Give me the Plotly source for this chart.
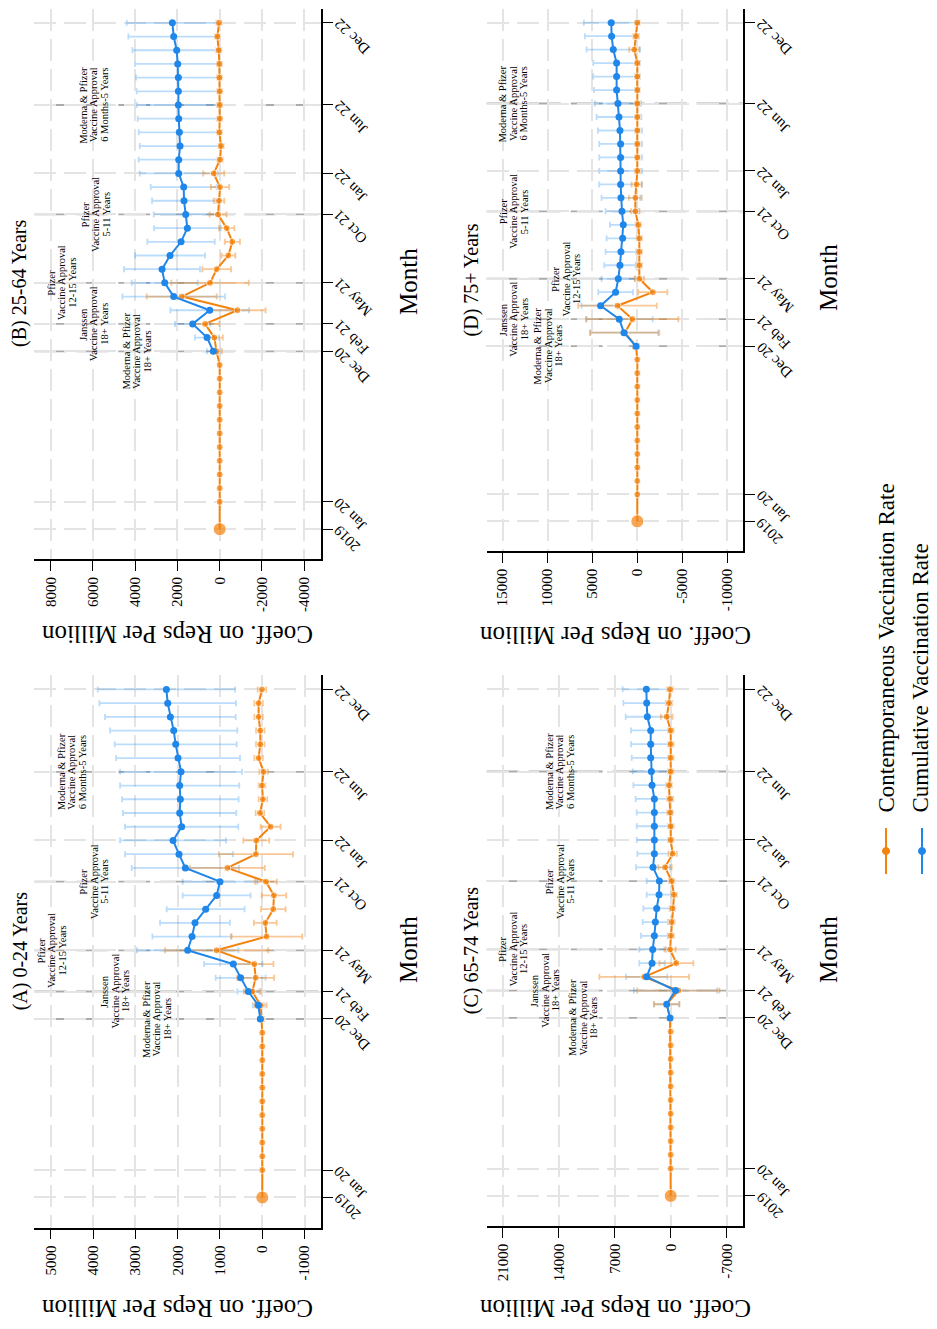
import plotly.graph_objects as go

# ---------------- data ----------------
# month index: 0 = Jan 20 ... 35 = Dec 22 ; 2019 baseline plotted at -2
MONTHS = list(range(0, 36))
VAC_MONTHS = list(range(11, 36))
BASE_POS = -2
BASE_VALUE = 0

TICK_POS = [-2, 0, 11, 13, 16, 21, 24, 29, 35]
TICK_LABELS = ["2019", "Jan 20", "Dec 20", "Feb 21", "May 21", "Oct 21", "Jan 22", "Jun 22", "Dec 22"]

EVENT_MONTHS = [11, 13, 16, 21, 29]
EVENT_TEXT = [
    ["Moderna & Pfizer", "Vaccine Approval", "18+ Years"],
    ["Janssen", "Vaccine Approval", "18+ Years"],
    ["Pfizer", "Vaccine Approval", "12-15 Years"],
    ["Pfizer", "Vaccine Approval", "5-11 Years"],
    ["Moderna & Pfizer", "Vaccine Approval", "6 Months-5 Years"],
]

# (A) 0-24 Years
A_cont = [0, 0, 0, 0, 0, 0, 0, 0, 0, 0, 0,
          20, 39, 236, 157, 189, 1079, -102, -71, -260, -276, -87, 827, 150, 142, -197,
          55, -16, 8, -31, 87, 47, 47, 87, 87, 8]
A_cont_ci = [60, 140, 200, 437, 453, 1220, 843, 268, 290, 290, 256, 886, 874, 307, 236,
             100, 100, 80, 100, 100, 100, 100, 100, 100, 100]
A_cum = [47, 94, 331, 512, 685, 1764, 1661, 1591, 1339, 1079, 1000, 1819, 1969, 2110, 1906,
         1953, 1937, 1953, 1921, 1992, 2047, 2094, 2173, 2236, 2268]
A_cum_ci = [40, 130, 260, 590, 690, 1200, 937, 826, 921, 803, 882, 1268, 1275, 1252, 1338,
            1338, 1378, 1409, 1441, 1465, 1441, 1504, 1544, 1614, 1622]

# (B) 25-64 Years
B_cont = [0, 0, 0, 0, 0, 0, 0, 0, 0, 0, 0,
          150, 252, 694, -840, 1798, 457, 142, -410, -599, -331, 79, 32, -16, 284, -16,
          -63, 16, 0, 0, 0, 16, 16, 47, 110, 32]
B_cont_ci = [250, 400, 678, 1333, 1656, 1830, 678, 330, 360, 363, 400, 250, 433, 497, 120,
             120, 120, 120, 120, 120, 120, 120, 120, 120, 120]
B_cum = [300, 599, 1278, 473, 2177, 2603, 2729, 2350, 1830, 1530, 1609, 1688, 1703, 1940, 1940,
         1877, 1909, 1940, 1956, 1956, 1956, 1987, 2035, 2177, 2240]
B_cum_ci = [300, 570, 836, 1861, 2429, 1561, 1798, 1656, 1593, 1577, 1514, 1514, 1562, 1845, 1893,
            1908, 1924, 1940, 1971, 1971, 2003, 2019, 2097, 2145, 2160]

# (C) 65-74 Years
C_cont = [0, 0, 0, 0, 0, 0, 0, 0, 0, 0, 0,
          83, 500, -958, 3312, -708, 83, -42, -125, -208, -417, -125, 708, -250, 0, 0,
          83, 83, 208, 0, 0, 0, 0, 500, 208, 83]
C_cont_ci = [200, 1583, 5125, 5604, 2125, 700, 350, 350, 350, 350, 350, 833, 520, 350, 350,
             350, 350, 350, 350, 350, 350, 350, 730, 400, 350]
C_cum = [83, 500, -600, 3000, 2333, 2250, 2042, 1917, 1750, 1458, 1417, 2208, 2042, 2042, 2042,
         2042, 2042, 2333, 2417, 2500, 2500, 2500, 2917, 3000, 3042]
C_cum_ci = [150, 1583, 5200, 2583, 1584, 1667, 1666, 1583, 1667, 1542, 1583, 2125, 2125, 2208, 2208,
            2208, 2333, 2334, 2333, 2375, 2458, 2458, 2708, 2917, 2958]

# (D) 75+ Years
D_cont = [0, 0, 0, 0, 0, 0, 0, 0, 0, 0, 0,
          149, 1375, 540, 2212, -1729, -223, -223, -223, -223, -112, 223, 223, 74, 0, 0,
          0, 0, 0, 0, 0, 0, 0, 335, 149, 0]
D_cont_ci = [300, 3829, 5110, 4368, 1617, 500, 300, 300, 300, 300, 460, 720, 560, 300, 250,
             250, 250, 250, 250, 250, 250, 250, 560, 300, 250]
D_cum = [149, 1487, 2007, 4089, 2416, 2119, 1933, 1822, 1636, 1561, 1710, 1822, 1859, 1859, 1859,
         1859, 1933, 2045, 2156, 2305, 2305, 2305, 2677, 2862, 2900]
D_cum_ci = [300, 3800, 3718, 2119, 1933, 1859, 1747, 1710, 1784, 1487, 1822, 2156, 2379, 2379, 2379,
            2379, 2454, 2490, 2565, 2528, 2602, 2602, 2974, 2974, 3048]

TITLES = ["(A) 0-24 Years", "(B) 25-64 Years", "(C) 65-74 Years", "(D) 75+ Years"]
VALUE_TICKS = [
    [5000, 4000, 3000, 2000, 1000, 0, -1000],
    [8000, 6000, 4000, 2000, 0, -2000, -4000],
    [21000, 14000, 7000, 0, -7000],
    [15000, 10000, 5000, 0, -5000, -10000],
]
SERIES_NAMES = ["Contemporaneous Vaccination Rate", "Cumulative Vaccination Rate"]

# ---------------- style / geometry ----------------
OFF = 8                       # page body margin
W, H = 937 - OFF, 1329 - 2 * OFF  # figure size (avoid page overflow)
FONT = "Liberation Serif"
ORANGE = "#F4820C"
BLUE = "#2087EA"
ORANGE_CI = "rgba(240,130,20,0.45)"
BLUE_CI = "rgba(30,140,240,0.30)"
GRID = "#E4E4E4"
EVENT = "#ABABAB"


def px(X):
    return (X - OFF) / W


def py(Y):
    return 1 - (Y - OFF) / H


PANELS = [
    dict(cont=A_cont, cont_ci=A_cont_ci, cum=A_cum, cum_ci=A_cum_ci,
         xdom=[px(34.3), px(321)], ydom=[py(1227.7), py(675)], xr=[5390, -1388],
         lab_x=[2478, 3480, 4979, 3966, 4500]),
    dict(cont=B_cont, cont_ci=B_cont_ci, cum=B_cum, cum_ci=B_cum_ci,
         xdom=[px(34.3), px(321)], ydom=[py(559.3), py(8.5)], xr=[8775, -4795],
         lab_x=[3928, 5935, 7449, 5878, 5935]),
    dict(cont=C_cont, cont_ci=C_cont_ci, cum=C_cum, cum_ci=C_cum_ci,
         xdom=[px(486.7), px(743.3)], ydom=[py(1226), py(675)], xr=[23000, -9075],
         lab_x=[10900, 15700, 19700, 13840, 13840]),
    dict(cont=D_cont, cont_ci=D_cont_ci, cum=D_cum, cum_ci=D_cum_ci,
         xdom=[px(486.7), px(743.3)], ydom=[py(551), py(8.5)], xr=[16770, -11800],
         lab_x=[9940, 13790, 7860, 13790, 13790]),
]

fig = go.Figure()
annotations = []
shapes = []
YR = [-4.2, 36.05]

for i, p in enumerate(PANELS):
    n = i + 1
    xa = "x" if n == 1 else f"x{n}"
    ya = "y" if n == 1 else f"y{n}"
    xk = "xaxis" if n == 1 else f"xaxis{n}"
    yk = "yaxis" if n == 1 else f"yaxis{n}"

    # confidence intervals
    fig.add_trace(go.Scatter(
        x=p["cum"], y=VAC_MONTHS, mode="markers", marker=dict(size=1, opacity=0),
        error_x=dict(type="data", array=p["cum_ci"], color=BLUE_CI, thickness=1.8, width=3),
        xaxis=xa, yaxis=ya, showlegend=False, hoverinfo="skip"))
    fig.add_trace(go.Scatter(
        x=p["cont"][11:], y=VAC_MONTHS, mode="markers", marker=dict(size=1, opacity=0),
        error_x=dict(type="data", array=p["cont_ci"], color=ORANGE_CI, thickness=1.8, width=3),
        xaxis=xa, yaxis=ya, showlegend=False, hoverinfo="skip"))
    # contemporaneous (orange) incl. 2019 baseline
    fig.add_trace(go.Scatter(
        x=[BASE_VALUE] + p["cont"], y=[BASE_POS] + MONTHS, mode="lines+markers",
        line=dict(color=ORANGE, width=2),
        marker=dict(color=ORANGE, size=[13] + [7] * len(MONTHS)),
        name=SERIES_NAMES[0], xaxis=xa, yaxis=ya, showlegend=False))
    # cumulative (blue)
    fig.add_trace(go.Scatter(
        x=p["cum"], y=VAC_MONTHS, mode="lines+markers",
        line=dict(color=BLUE, width=2), marker=dict(color=BLUE, size=7),
        name=SERIES_NAMES[1], xaxis=xa, yaxis=ya, showlegend=False))

    fig.update_layout({
        xk: dict(domain=p["xdom"], range=p["xr"], anchor=ya, tickvals=VALUE_TICKS[i],
                 ticktext=[str(v) for v in VALUE_TICKS[i]],
                 tickangle=-90, ticks="outside", ticklen=10, tickwidth=1.3, tickcolor="black",
                 showline=True, linecolor="black", linewidth=1.5, showgrid=True,
                 gridcolor=GRID, gridwidth=1.5, griddash="22px,8px", zeroline=False,
                 tickfont=dict(family=FONT, size=15, color="black")),
        yk: dict(domain=p["ydom"], range=YR, anchor=xa, side="right", tickvals=TICK_POS,
                 showticklabels=False, ticks="outside", ticklen=10, tickwidth=1.3,
                 tickcolor="black", showline=True, linecolor="black", linewidth=1.5,
                 showgrid=True, gridcolor=GRID, gridwidth=1.5, griddash="22px,8px",
                 zeroline=False),
    })

    # month tick labels (rotated)
    for pos, lab in zip(TICK_POS, TICK_LABELS):
        annotations.append(dict(xref=f"{xa} domain", yref=ya, x=1, y=pos, text=lab,
                                textangle=-135, xanchor="left", yanchor="top",
                                xshift=7, yshift=10, showarrow=False,
                                font=dict(family=FONT, size=15, color="black")))

    # event lines and labels
    for ev, lines, lx in zip(EVENT_MONTHS, EVENT_TEXT, p["lab_x"]):
        shapes.append(dict(type="line", xref=f"{xa} domain", yref=ya, x0=0, x1=1, y0=ev, y1=ev,
                           line=dict(color=EVENT, width=1.8, dash="32px,10px"), layer="below"))
        for k, t in enumerate(lines):
            annotations.append(dict(xref=xa, yref=ya, x=lx, y=ev, text=t, textangle=-90,
                                    xshift=(k - 1) * 10.5, showarrow=False,
                                    xanchor="center", yanchor="middle",
                                    font=dict(family=FONT, size=10.5, color="black")))

    # panel title
    xc = px(20) if n in (1, 2) else px(471.7)
    yc = sum(p["ydom"]) / 2
    annotations.append(dict(xref="paper", yref="paper", x=xc, y=yc, text=TITLES[i],
                            textangle=-90, showarrow=False, xanchor="center", yanchor="middle",
                            font=dict(family=FONT, size=20, color="black")))
    # axis titles
    axc = px(177) if n in (1, 2) else px(615)
    ayc = {1: py(1309), 2: py(635), 3: py(1309), 4: py(636)}[n]
    annotations.append(dict(xref="paper", yref="paper", x=axc, y=ayc,
                            text="Coeff. on Reps Per Million", textangle=180, showarrow=False,
                            xanchor="center", yanchor="middle",
                            font=dict(family=FONT, size=25, color="black")))
    mx = px(408) if n in (1, 2) else px(828)
    my = {1: py(950), 2: py(282), 3: py(950), 4: py(278)}[n]
    annotations.append(dict(xref="paper", yref="paper", x=mx, y=my, text="Month",
                            textangle=-90, showarrow=False, xanchor="center", yanchor="middle",
                            font=dict(family=FONT, size=25, color="black")))

# legend (rotated, drawn manually)
for name, col, kx, tx in [(SERIES_NAMES[0], ORANGE, 886, 886), (SERIES_NAMES[1], BLUE, 922, 920)]:
    shapes.append(dict(type="line", xref="paper", yref="paper", x0=px(kx), x1=px(kx),
                       y0=py(828), y1=py(874), line=dict(color=col, width=2)))
    shapes.append(dict(type="circle", xref="paper", yref="paper", fillcolor=col,
                       line=dict(color=col, width=1),
                       x0=px(kx - 3.5), x1=px(kx + 3.5),
                       y0=py(854.5), y1=py(847.5)))
    annotations.append(dict(xref="paper", yref="paper", x=px(tx), y=py(815), text=name,
                            textangle=-90, showarrow=False, xanchor="center", yanchor="bottom",
                            font=dict(family=FONT, size=23, color="black")))

fig.update_layout(width=W, height=H, margin=dict(l=0, r=0, t=0, b=0),
                  paper_bgcolor="white", plot_bgcolor="white",
                  annotations=annotations, shapes=shapes, showlegend=False)

fig.write_html("out.html")
